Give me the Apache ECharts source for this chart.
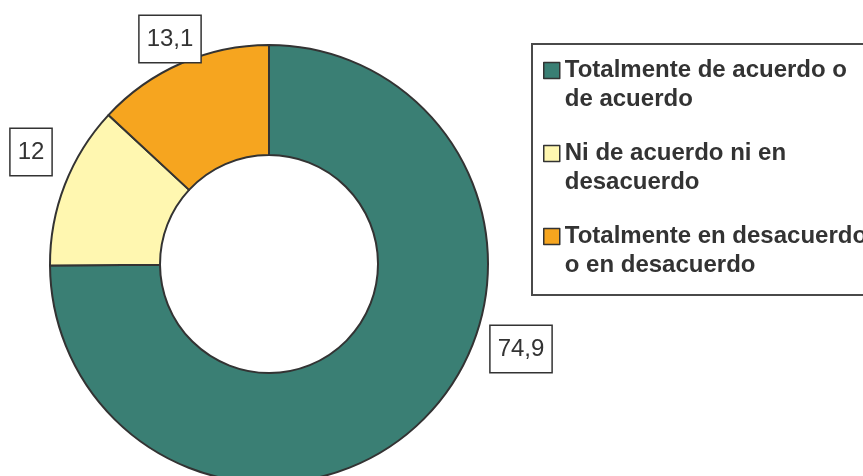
<!DOCTYPE html>
<html>
<head>
<meta charset="utf-8">
<script src="https://cdn.jsdelivr.net/npm/echarts@6/dist/echarts.min.js"></script>
<style>
  html, body { margin: 0; padding: 0; background: #fff; }
  #chart { width: 863px; height: 476px; }
</style>
</head>
<body>
<div id="chart"></div>
<script>
// datos
var categories = ['Totalmente de acuerdo o\nde acuerdo', 'Ni de acuerdo ni en\ndesacuerdo', 'Totalmente en desacuerdo\no en desacuerdo'];
var values = [74.9, 12, 13.1];
var valueLabels = ['74,9', '12', '13,1'];

var colors = ['#3a7f74', '#fff7b0', '#f6a51f'];
// posición de las etiquetas (centro de cada recuadro)
var labelPos = [[521, 349], [31, 152], [170, 39]];

var chart = echarts.init(document.getElementById('chart'));

var seriesData = [];
for (var i = 0; i < values.length; i++) {
    seriesData.push({
        name: categories[i],
        value: values[i],
        itemStyle: { color: colors[i] }
    });
}

var option = {
    animation: false,
    graphic: [{
        type: 'rect',
        shape: { x: 532, y: 44, width: 345, height: 251 },
        style: { fill: 'none', stroke: '#4a4a4a', lineWidth: 2 },
        z: 0
    }],
    legend: {
        orient: 'vertical',
        left: 543,
        top: 27,
        padding: 0,
        itemWidth: 16,
        itemHeight: 16,
        itemGap: -4,
        icon: 'rect',
        itemStyle: { borderColor: '#333', borderWidth: 1.5 },
        // línea vacía delante para que el icono quede a la altura de la primera línea
        formatter: function (name) { return '\n' + name; },
        textStyle: {
            fontFamily: 'Liberation Sans, Arial, sans-serif',
            fontWeight: 'bold',
            fontSize: 24,
            color: '#333',
            lineHeight: 29
        },
        data: categories
    },
    series: [{
        type: 'pie',
        center: [269, 264],
        radius: [109, 219],
        startAngle: 90,
        clockwise: true,
        avoidLabelOverlap: false,
        itemStyle: { borderColor: '#333', borderWidth: 2 },
        emphasis: { disabled: true },
        label: {
            show: true,
            position: 'outside',
            formatter: function (p) { return valueLabels[p.dataIndex]; },
            fontFamily: 'Liberation Sans, Arial, sans-serif',
            fontSize: 24,
            lineHeight: 26,
            color: '#333',
            backgroundColor: '#fff',
            borderColor: '#333',
            borderWidth: 1.5,
            padding: [10, 7, 10, 7]
        },
        labelLine: { show: false },
        labelLayout: function (params) {
            var pos = labelPos[params.dataIndex];
            return { x: pos[0], y: pos[1], align: 'center', verticalAlign: 'middle' };
        },
        data: seriesData
    }]
};

chart.setOption(option);
</script>
</body>
</html>
